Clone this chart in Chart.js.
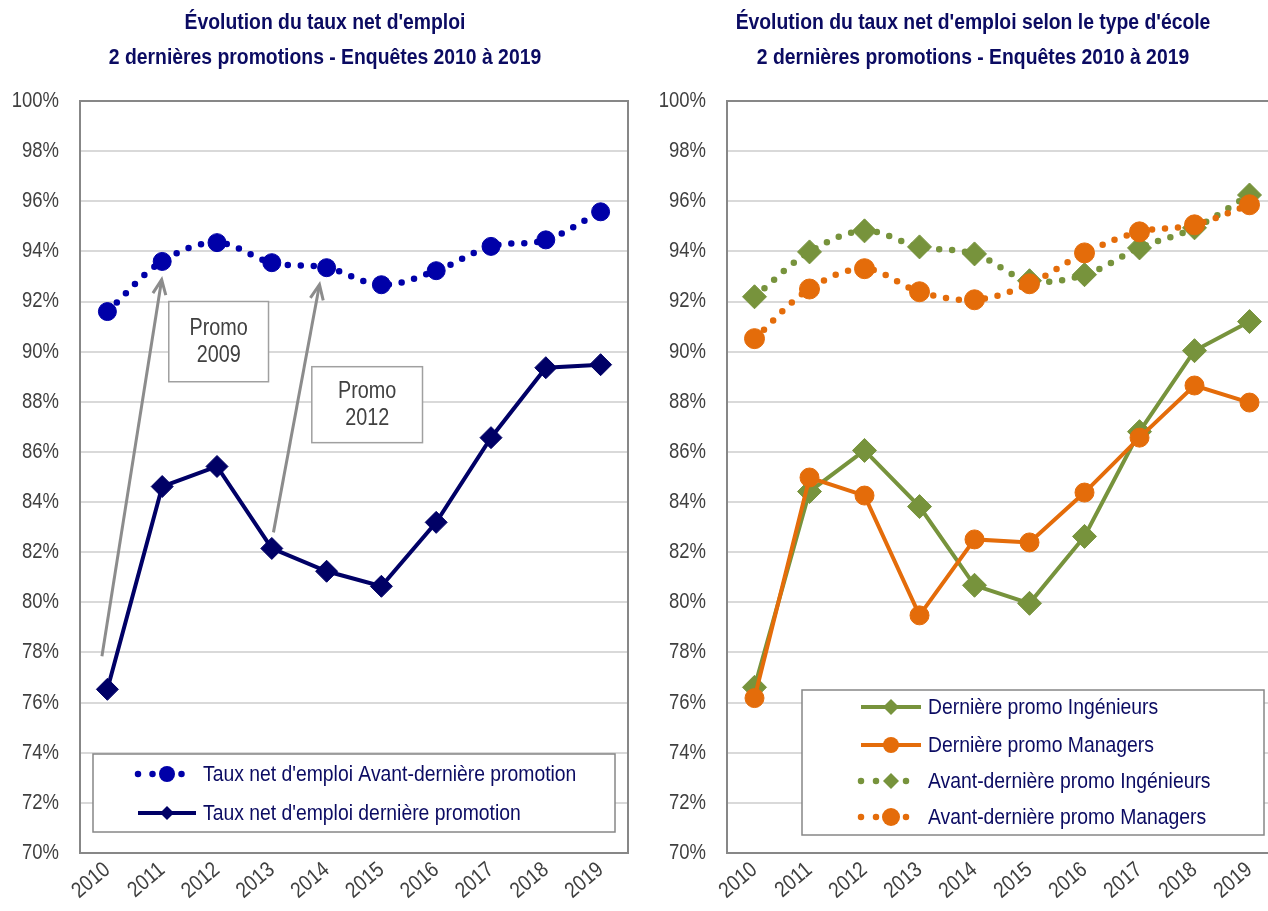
<!DOCTYPE html>
<html>
<head>
<meta charset="utf-8">
<title>Taux net d'emploi</title>
<script src="https://cdn.jsdelivr.net/npm/chart.js@4.4.1/dist/chart.umd.min.js"></script>
<style>
  html, body { margin: 0; padding: 0; background: #fff; overflow: hidden; }
  #page { position: relative; width: 1268px; height: 911px; overflow: hidden; }
  #left { position: absolute; left: 0; top: 0; }
  #right { position: absolute; left: 640px; top: 0; }
</style>
</head>
<body>
<div id="page">
  <canvas id="left" width="640" height="911"></canvas>
  <canvas id="right" width="650" height="911"></canvas>
</div>
<script>
// categories
var years = ['2010', '2011', '2012', '2013', '2014', '2015', '2016', '2017', '2018', '2019'];

// left chart series (%)
var avantDerniere = [91.6, 93.6, 94.35, 93.55, 93.35, 92.67, 93.23, 94.2, 94.46, 95.58];
var derniere      = [76.53, 84.62, 85.42, 82.15, 81.24, 80.64, 83.19, 86.57, 89.36, 89.48];

// right chart series (%)
var derniereIng = [76.61, 84.42, 86.06, 83.82, 80.68, 79.96, 82.63, 86.81, 90.04, 91.2];
var derniereMan = [76.18, 84.98, 84.26, 79.48, 82.51, 82.39, 84.38, 86.57, 88.65, 87.97];
var avantIng    = [92.19, 93.98, 94.82, 94.18, 93.9, 92.83, 93.07, 94.14, 94.94, 96.25];
var avantMan    = [90.52, 92.5, 93.31, 92.39, 92.07, 92.71, 93.94, 94.78, 95.06, 95.86];

// y axis
var yMin = 70;
var yMax = 100;
var yStep = 2;

// titles
var titleLeft  = ["Évolution du taux net d'emploi", '2 dernières promotions - Enquêtes 2010 à 2019'];
var titleRight = ["Évolution du taux net d'emploi selon le type d'école", '2 dernières promotions - Enquêtes 2010 à 2019'];

// legend labels
var labelsLeft  = ["Taux net d'emploi Avant-dernière promotion", "Taux net d'emploi dernière promotion"];
var labelsRight = ['Dernière promo Ingénieurs', 'Dernière promo Managers', 'Avant-dernière promo Ingénieurs', 'Avant-dernière promo Managers'];

// callouts, in data units (category index, percent)
var callouts = [
    { text: ['Promo', '2009'], box: [1.12, 92.0, 2.94, 88.8], from: [-0.1, 77.85], to: [0.99, 92.87] },
    { text: ['Promo', '2012'], box: [3.73, 89.4, 5.75, 86.37], from: [3.03, 82.79], to: [3.87, 92.67] }
];

// styles
var FONT = "'Liberation Sans', Arial, sans-serif";
var NARROW = 0.86;
var NAVY_TEXT = '#0B0B62';
var GREY_TEXT = '#404040';
var NAVY = '#000066';
var BLUE = '#0000A8';
var GREEN = '#77933C';
var ORANGE = '#E46C0A';

// squeeze text horizontally, no narrow font is installed
function narrowText(canvas) {
    var ctx = canvas.getContext('2d');
    var fill = ctx.fillText, measure = ctx.measureText;
    ctx.fillText = function(text, x, y, maxWidth) {
        this.save();
        this.translate(x, y);
        this.scale(NARROW, 1);
        if (maxWidth === undefined) fill.call(this, text, 0, 0);
        else fill.call(this, text, 0, 0, maxWidth / NARROW);
        this.restore();
    };
    ctx.measureText = function(text) {
        var m = measure.call(this, text);
        return {
            width: m.width * NARROW,
            actualBoundingBoxAscent: m.actualBoundingBoxAscent,
            actualBoundingBoxDescent: m.actualBoundingBoxDescent,
            actualBoundingBoxLeft: m.actualBoundingBoxLeft * NARROW,
            actualBoundingBoxRight: m.actualBoundingBoxRight * NARROW
        };
    };
    return canvas;
}

// draw a marker
function drawMarker(ctx, style, r, x, y, color) {
    ctx.save();
    ctx.fillStyle = color;
    ctx.beginPath();
    if (style === 'rectRot') {
        ctx.moveTo(x, y - r);
        ctx.lineTo(x + r, y);
        ctx.lineTo(x, y + r);
        ctx.lineTo(x - r, y);
        ctx.closePath();
    } else {
        ctx.arc(x, y, r, 0, Math.PI * 2);
    }
    ctx.fill();
    ctx.restore();
}

// two line title, centred where the original sits
var titlePlugin = {
    id: 'twoLineTitle',
    afterDraw: function(chart, args, opts) {
        var ctx = chart.ctx;
        ctx.save();
        ctx.fillStyle = NAVY_TEXT;
        ctx.font = 'bold 22.5px ' + FONT;
        ctx.textAlign = 'center';
        ctx.textBaseline = 'middle';
        opts.text.forEach(function(line, i) {
            ctx.fillText(line, opts.x, opts.y[i]);
        });
        ctx.restore();
    }
};

// plot frame
var framePlugin = {
    id: 'frame',
    beforeDatasetsDraw: function(chart) {
        var a = chart.chartArea, ctx = chart.ctx;
        ctx.save();
        ctx.strokeStyle = '#878787';
        ctx.lineWidth = 2;
        ctx.strokeRect(a.left, a.top, a.right - a.left, a.bottom - a.top);
        ctx.restore();
    }
};

// legend box drawn inside the plot
var boxLegendPlugin = {
    id: 'boxLegend',
    afterDatasetsDraw: function(chart, args, opts) {
        var ctx = chart.ctx;
        var b = opts.box;
        ctx.save();
        ctx.fillStyle = '#fff';
        ctx.fillRect(b[0], b[1], b[2] - b[0], b[3] - b[1]);
        ctx.strokeStyle = '#878787';
        ctx.lineWidth = 1.5;
        ctx.strokeRect(b[0], b[1], b[2] - b[0], b[3] - b[1]);

        opts.rows.forEach(function(row, i) {
            var ds = chart.data.datasets[row.dataset];
            var y = opts.rowY[i];
            var x0 = opts.sample[0], x1 = opts.sample[1];
            var mid = (x0 + x1) / 2;
            ctx.save();
            ctx.strokeStyle = ds.borderColor;
            ctx.lineWidth = ds.borderWidth;
            ctx.lineCap = ds.dotted ? 'round' : 'butt';
            if (ds.dotted) ctx.setLineDash([0, (x1 - x0) / 4]);
            ctx.beginPath();
            ctx.moveTo(x0, y);
            ctx.lineTo(x1, y);
            ctx.stroke();
            ctx.restore();
            drawMarker(ctx, ds.pointStyle, row.radius, mid, y, ds.borderColor);

            ctx.fillStyle = NAVY_TEXT;
            ctx.font = opts.fontSize + 'px ' + FONT;
            ctx.textBaseline = 'middle';
            ctx.textAlign = 'left';
            ctx.fillText(row.label, opts.textX, y + 1);
        });
        ctx.restore();
    }
};

// arrows and text boxes
var calloutPlugin = {
    id: 'callouts',
    afterDatasetsDraw: function(chart, args, opts) {
        if (!opts.items) return;
        var ctx = chart.ctx, xs = chart.scales.x, ys = chart.scales.y;
        opts.items.forEach(function(c) {
            var fx = xs.getPixelForValue(c.from[0]), fy = ys.getPixelForValue(c.from[1]);
            var tx = xs.getPixelForValue(c.to[0]), ty = ys.getPixelForValue(c.to[1]);
            var ang = Math.atan2(ty - fy, tx - fx);
            ctx.save();
            ctx.strokeStyle = '#8C8C8C';
            ctx.lineWidth = 3;
            ctx.beginPath();
            ctx.moveTo(fx, fy);
            ctx.lineTo(tx, ty);
            ctx.stroke();
            ctx.beginPath();
            ctx.moveTo(tx - 16 * Math.cos(ang - 0.42), ty - 16 * Math.sin(ang - 0.42));
            ctx.lineTo(tx, ty);
            ctx.lineTo(tx - 16 * Math.cos(ang + 0.42), ty - 16 * Math.sin(ang + 0.42));
            ctx.stroke();

            var bx0 = xs.getPixelForValue(c.box[0]), by0 = ys.getPixelForValue(c.box[1]);
            var bx1 = xs.getPixelForValue(c.box[2]), by1 = ys.getPixelForValue(c.box[3]);
            ctx.fillStyle = '#fff';
            ctx.fillRect(bx0, by0, bx1 - bx0, by1 - by0);
            ctx.strokeStyle = '#A0A0A0';
            ctx.lineWidth = 1.5;
            ctx.strokeRect(bx0, by0, bx1 - bx0, by1 - by0);
            ctx.fillStyle = GREY_TEXT;
            ctx.font = '23px ' + FONT;
            ctx.textAlign = 'center';
            ctx.textBaseline = 'middle';
            var cy = (by0 + by1) / 2;
            ctx.fillText(c.text[0], (bx0 + bx1) / 2, cy - 13);
            ctx.fillText(c.text[1], (bx0 + bx1) / 2, cy + 14);
            ctx.restore();
        });
    }
};

// common options
function makeOptions(titleOpts, yWidth, padRight, legendOpts, calloutItems) {
    return {
        responsive: false,
        animation: false,
        events: [],
        layout: { padding: { top: 101, right: padRight, bottom: 0, left: 0 } },
        plugins: {
            legend: { display: false },
            tooltip: { enabled: false },
            title: { display: false },
            twoLineTitle: titleOpts,
            boxLegend: legendOpts,
            callouts: { items: calloutItems }
        },
        scales: {
            x: {
                offset: true,
                grid: { display: false, drawTicks: false },
                border: { display: false },
                ticks: {
                    color: GREY_TEXT,
                    font: { family: FONT, size: 22 },
                    autoSkip: false,
                    maxRotation: 40,
                    minRotation: 40,
                    padding: 4
                },
                afterFit: function(scale) { scale.height = 58; }
            },
            y: {
                min: yMin,
                max: yMax,
                grid: { color: '#D9D9D9', lineWidth: 2, drawTicks: false },
                border: { display: false },
                ticks: {
                    stepSize: yStep,
                    color: GREY_TEXT,
                    font: { family: FONT, size: 21.5 },
                    padding: 21,
                    callback: function(v) { return v + '%'; }
                },
                afterFit: function(scale) { scale.width = yWidth; }
            }
        }
    };
}

// dataset helpers
function solidSet(data, color, style, radius, order) {
    return {
        data: data, borderColor: color, backgroundColor: color, borderWidth: 4,
        pointStyle: style, pointRadius: radius, pointBackgroundColor: color,
        pointBorderColor: color, pointBorderWidth: 1, tension: 0, order: order
    };
}
function dottedSet(data, color, style, radius, order) {
    return {
        data: data, borderColor: color, backgroundColor: color, borderWidth: 6.5,
        borderDash: [0, 13], borderCapStyle: 'round', dotted: true,
        pointStyle: style, pointRadius: radius, pointBackgroundColor: color,
        pointBorderColor: color, pointBorderWidth: 1, tension: 0.35, order: order
    };
}

var plugins = [titlePlugin, framePlugin, boxLegendPlugin, calloutPlugin];

// left chart
new Chart(narrowText(document.getElementById('left')), {
    type: 'line',
    data: {
        labels: years,
        datasets: [
            dottedSet(avantDerniere, BLUE, 'circle', 9, 2),
            solidSet(derniere, NAVY, 'rectRot', 11, 1)
        ]
    },
    options: makeOptions({ text: titleLeft, x: 325, y: [23, 58] }, 80, 11, {
        box: [93, 754, 615, 832],
        rowY: [774, 813],
        sample: [138, 196],
        textX: 203,
        fontSize: 22.5,
        rows: [
            { dataset: 0, label: labelsLeft[0], radius: 8 },
            { dataset: 1, label: labelsLeft[1], radius: 7 }
        ]
    }, callouts),
    plugins: plugins
});

// right chart
new Chart(narrowText(document.getElementById('right')), {
    type: 'line',
    data: {
        labels: years,
        datasets: [
            solidSet(derniereIng, GREEN, 'rectRot', 12, 4),
            solidSet(derniereMan, ORANGE, 'circle', 9.5, 3),
            dottedSet(avantIng, GREEN, 'rectRot', 12, 2),
            dottedSet(avantMan, ORANGE, 'circle', 10, 1)
        ]
    },
    options: makeOptions({ text: titleRight, x: 333, y: [23, 58] }, 87, 13, {
        box: [162, 690, 624, 835],
        rowY: [707, 745, 781, 817],
        sample: [221, 281],
        textX: 288,
        fontSize: 22.5,
        rows: [
            { dataset: 0, label: labelsRight[0], radius: 8 },
            { dataset: 1, label: labelsRight[1], radius: 8 },
            { dataset: 2, label: labelsRight[2], radius: 8 },
            { dataset: 3, label: labelsRight[3], radius: 9 }
        ]
    }, null),
    plugins: plugins
});
</script>
</body>
</html>
